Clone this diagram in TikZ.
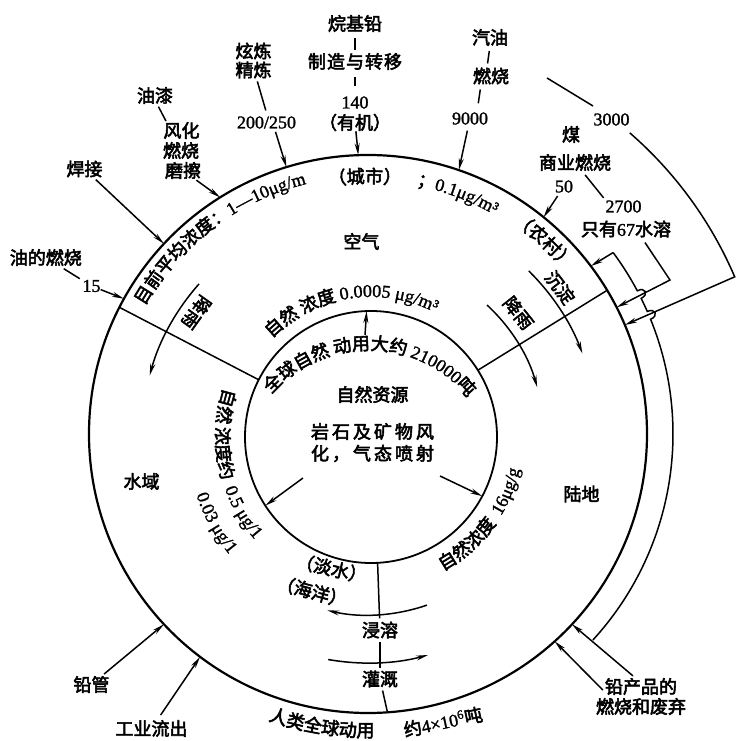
\documentclass[tikz,border=0pt]{standalone}
\usepackage{fontspec}
\newfontfamily\cjk{Noto Sans CJK SC}[FakeBold=3]
\newfontfamily\lser{Liberation Serif}[FakeBold=1.5]
\usetikzlibrary{arrows.meta,decorations.text}
\newcommand\myfs{\fontsize{18}{20}\selectfont}
\newcommand\CJ{\cjk\myfs}
\newcommand\LS{\lser\myfs}
\newcommand\cwtext[5]{\path[shift={(#1,#2)},decorate,decoration={text along path,text align=center,text={#5}}] (#4+70:#3) arc[start angle=#4+70,end angle=#4-70,radius=#3];}
\newcommand\ccwtext[5]{\path[shift={(#1,#2)},decorate,decoration={text along path,text align=center,text={#5}}] (#4-70:#3) arc[start angle=#4-70,end angle=#4+70,radius=#3];}
\begin{document}
\begin{tikzpicture}[x=1pt,y=1pt,
  lab/.style={font=\CJ,inner sep=0pt},
  num/.style={font=\LS,inner sep=0pt},
  con/.style={line width=1.5pt},
  arr/.style={line width=1.5pt,-{Stealth[length=12pt,width=5pt]}},
  ring/.style={circle,draw,inner sep=0pt,outer sep=0pt},
  rot/.style={font=\CJ,inner sep=0pt,rotate=#1}]
\useasboundingbox (-368,-307) rectangle (372,434);
\fill[white] (-368,-307) rectangle (372,434);
% rings
\node[ring,line width=2.2pt,minimum size=558pt] (outer) at (0,0) {};
\node[ring,line width=1.8pt,minimum size=252pt] (inner) at (3,-3) {};
% radial dividers
\draw[con] (inner.153.5) -- (outer.153.5);
\draw[con] (inner.32.5) -- (outer.31);
% outer right arc with two line hops
\coordinate (s-top) at (36.5:305);
\draw[con] (s-top) arc[start angle=36.5,end angle=28,radius=305]
  .. controls (28:314) and (26.4:314) .. (26.4:305)
  arc[start angle=26.4,end angle=23.7,radius=305]
  .. controls (23.7:314) and (22.1:314) .. (22.1:305)
  arc[start angle=22.1,end angle=-42.5,radius=305];
\draw[arr] (s-top) -- (outer.37);
\coordinate (t-a) at (49:399);
\draw[arr] (t-a) arc[start angle=49,end angle=23.2,radius=399] -- (outer.23);
% top labels
\node[lab] (n-alkyl) at (-13,410.5) {烷基铅};
\node[lab] (n-make) at (-13,372.5) {制\kern1pt 造\kern1pt 与\kern1pt 转\kern1pt 移};
\node[num] (n-140) at (-13,331.5) {140};
\node[lab] (n-org) at (-13,311.5) {（有机）};
\draw[con,shorten <=6pt,shorten >=3pt] (n-alkyl) -- (n-make);
\draw[con,shorten <=7pt,shorten >=10pt] (n-make) -- (n-140);
\draw[arr] (n-org) -- (outer.92);
\node[lab] (n-xl) at (-114.5,383) {炫炼};
\node[lab] (n-jl) at (-114.5,364) {精炼};
\node[num] (n-200) at (-101.5,311.5) {200/250};
\draw[con,shorten <=3pt,shorten >=6pt] ([xshift=3pt]n-jl.south) -- ([xshift=1pt]n-200.north);
\draw[arr] ([xshift=9pt,yshift=-3pt]n-200.south) -- (outer.107.3);
\node[lab] (n-yq) at (-213,338.5) {油漆};
\node[lab] (n-fh) at (-186.5,303.5) {风化};
\node[lab] (n-rs) at (-187,283.5) {燃烧};
\node[lab] (n-mc) at (-185,263.5) {磨擦};
\draw[con,shorten <=3pt,shorten >=1pt] ([xshift=2pt]n-yq.south) -- ([xshift=-15pt]n-fh.north);
\draw[arr,shorten <=2pt] (n-mc) -- (outer.122.8);
\node[lab] (n-hj) at (-283.5,265) {焊接};
\draw[arr,shorten <=3pt] (n-hj) -- (outer.137.8);
\node[lab,anchor=east] (n-ydrs) at (-286,176.5) {油的燃烧};
\node[num] (n-15) at (-276.5,148) {15};
\draw[con,shorten <=5pt,shorten >=3pt] (n-ydrs) -- (n-15);
\draw[arr] (n-15) -- (outer.151.3);
\node[lab] (n-qy) at (122,396.5) {汽油};
\node[lab] (n-rs2) at (123,358) {燃烧};
\node[num] (n-9000) at (102,315.5) {9000};
\draw[con,shorten <=5pt,shorten >=4pt] (n-qy.south) -- ([xshift=-4pt]n-rs2.north);
\draw[con,shorten <=5pt,shorten >=9pt] ([xshift=-10pt]n-rs2.south) -- ([xshift=7pt]n-9000.north);
\draw[arr,shorten <=6pt] (n-9000) -- (outer.71.9);
\node[num] (n-3000) at (243.5,314.5) {3000};
\coordinate (c3a) at (179,356);
\coordinate (c3b) at (225,328);
\draw[con] (c3a) -- (c3b);
\node[lab] (n-mei) at (203,299.5) {煤};
\node[lab] (n-sy) at (207,271.5) {商业燃烧};
\node[num] (n-50) at (196,247.5) {50};
\node[num] (n-2700) at (255.5,227.5) {2700};
\node[lab] (n-67) at (258,205) {只有{\LS 67}水溶};
\draw[arr,shorten <=4pt] (n-50) -- (outer.51.5);
\draw[con,shorten <=5pt,shorten >=3pt] ([xshift=7pt]n-sy.south) -- ([xshift=-18pt]n-2700.north);
\coordinate (c67) at (302,154);
\draw[arr] ([xshift=19pt,yshift=-5pt]n-67.south) -- (c67) -- (outer.27);
% bottom right
\node[lab] (n-cp1) at (273,-252.5) {铅产品的};
\node[lab] (n-cp2) at (273,-272.5) {燃烧和废弃};
\draw[arr] ([xshift=-8pt,yshift=2pt]n-cp1.north) -- (outer.317.3);
\draw[arr] ([xshift=-2pt,yshift=-3.5pt]n-cp1.west) -- (outer.312.3);
% bottom left
\node[lab] (n-gg) at (-276.5,-250.5) {铅管};
\node[lab] (n-gy) at (-216.5,-294.5) {工业流出};
\draw[arr,shorten <=3pt] (n-gg) -- (outer.223.7);
\draw[arr,shorten <=6pt] (n-gy) -- (outer.233.4);
% inner arrows
\coordinate (c-up) at (-3,99);
\draw[arr] (c-up) -- (inner.92.7);
\coordinate (c-lb) at (-65,-44);
\draw[arr] (c-lb) -- (inner.213);
\coordinate (c-rb) at (72,-42);
\draw[arr] (c-rb) -- (inner.-28);
% region labels
\node[lab] (n-kq) at (-6.5,192.5) {空气};
\node[lab] (n-sy2) at (-226.5,-47.5) {水域};
\node[lab] (n-ld) at (213.5,-60) {陆地};
\node[lab] (n-zr) at (4.5,39.5) {自然资源};
\node[lab] (n-ys1) at (4.5,2.5) {岩\,石\,及\,矿\,物\,风};
\node[lab] (n-ys2) at (4.5,-19.5) {化\,，\,气\,态\,喷\,射};
% rain / settling arcs
\coordinate (rl-a) at (138.4:226);
\draw[arr] (rl-a) arc[start angle=138.4,end angle=165,radius=226];
\coordinate (rr-a) at (47.3:175.5);
\draw[arr] (rr-a) arc[start angle=47.3,end angle=15.5,radius=175.5];
\coordinate (cd-a) at (45.4:229);
\draw[arr] (cd-a) arc[start angle=45.4,end angle=20.6,radius=229];
\node[rot=-125.5] (n-jy1) at (-171.5,121.5) {降雨};
\node[rot=-51.5] (n-jy2) at (150.5,121) {降雨};
\node[rot=-52.6] (n-cd) at (192,146.5) {沉淀};
% bottom
\coordinate (bu-a) at (-71:181);
\draw[arr] (bu-a) arc[start angle=-71,end angle=-103,radius=181];
\coordinate (bl-a) at (-100:229);
\draw[arr] (bl-a) arc[start angle=-100,end angle=-74.8,radius=229];
\node[lab,inner sep=3pt] (n-jr) at (12,-196) {浸溶};
\node[lab,inner sep=3pt] (n-gai) at (12,-245) {灌溉};
\draw[con] (inner.-87.3) -- (n-jr);
\draw[con] (n-jr) -- (n-gai);
\draw[con] (n-gai) -- (outer.-86.5);
\node[rot=-13] (n-ds) at (-36.5,-134.5) {（淡水）};
\node[rot=-15] (n-hy) at (-56,-157.5) {（海洋）};
\ccwtext{0}{0}{303}{-99}{|\CJ|人类全球动用}
\node[lab,rotate=12] (n-4e6) at (75,-288) {约{\LS 4×10\textsuperscript{6}}吨};
% arc texts
\cwtext{0}{0}{257.5}{127}{|\CJ|目前平均浓度：|\LS|1—10μg/m}
\cwtext{0}{0}{251}{90.7}{|\CJ|（城市）}
\cwtext{0}{0}{253}{69.5}{|\CJ|；|\LS|0.1μg/m³}
\cwtext{0}{0}{256}{47.6}{|\CJ|（农村）}
\cwtext{3}{-3}{140}{99}{|\CJ|自然 浓度 |\LS|0.0005 μg/m³}
\cwtext{0}{-44}{128}{89}{|\CJ|全球自然 动用大约 |\LS|210000|\CJ|吨}
\ccwtext{3}{-3}{155}{191.5}{|\CJ|自然 浓度约 |\LS| 0.5 μg/1}
\ccwtext{3}{-3}{184}{209}{|\LS|0.03 μg/1}
\ccwtext{3}{-3}{152}{-37}{|\CJ|自然浓度 |\LS| 16μg/g}
\end{tikzpicture}
\end{document}
